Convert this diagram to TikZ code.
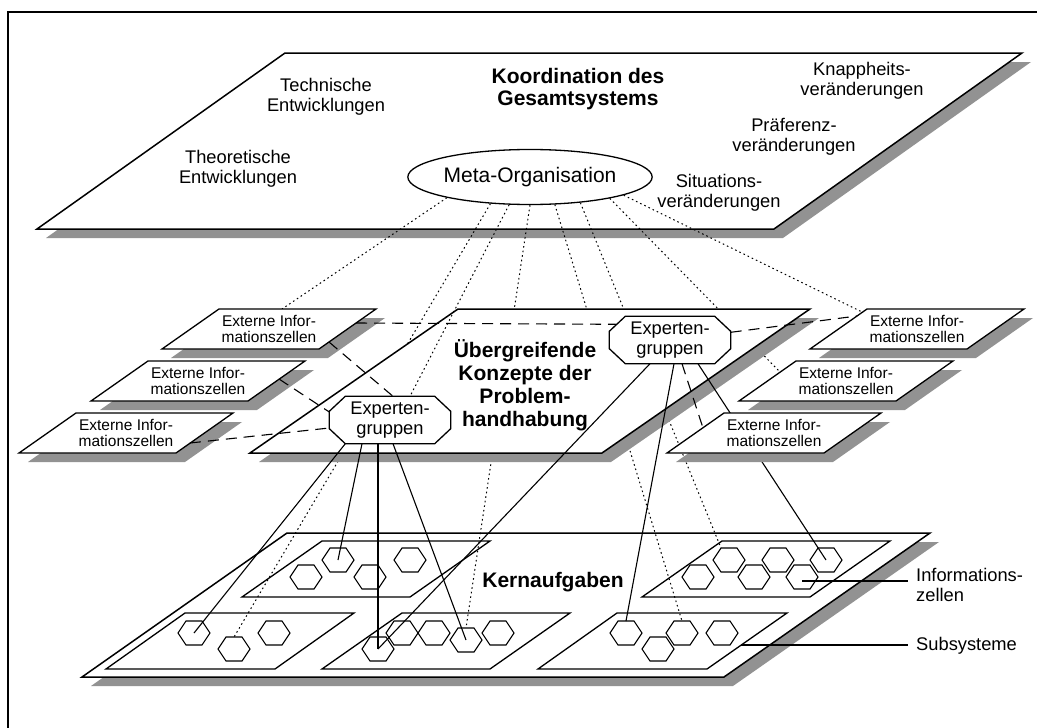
\documentclass[tikz,border=0pt]{standalone}
\usepackage{fontspec}
\setmainfont{Liberation Sans}
\usetikzlibrary{calc,shapes.geometric}
\definecolor{shade}{RGB}{146,146,146}

\tikzset{
  plane/.style={draw=black,fill=white,line width=1.5pt,line join=miter},
  subplane/.style={draw=black,line width=1.3pt,line join=miter},
  cellframe/.style={draw=black,fill=white,line width=1.3pt,line join=miter},
  drop/.style={fill=shade,draw=none},
  hexa/.style={draw=black,fill=white,line width=1.1pt},
  octo/.style={draw=black,fill=white,line width=1.3pt},
  txt/.style={font=\fontsize{18.3}{20}\selectfont,align=center,inner sep=0pt},
  btxt/.style={font=\bfseries\fontsize{21}{22.5}\selectfont,align=center,inner sep=0pt},
  stxt/.style={font=\fontsize{15.5}{16.5}\selectfont,align=center,inner sep=0pt},
  dotlink/.style={line width=1pt,dash pattern=on 1.6pt off 3pt},
  dashlink/.style={line width=1.1pt,dash pattern=on 11pt off 7pt},
  link/.style={line width=1.1pt},
  octbox/.style={minimum width=121pt,minimum height=47pt,inner sep=0pt},
  hexcell/.pic={
    \draw[hexa] (-16,0) -- (-8,-12) -- (8,-12) -- (16,0) -- (8,12) -- (-8,12) -- cycle;
    \coordinate (-c) at (0,0);
  },
  extcell/.pic={
    \fill[drop] (-98,29) -- (59,29) -- (116,-11) -- (-41,-11) -- cycle;
    \draw[cellframe] (-107,20) -- (50,20) -- (107,-20) -- (-50,-20) -- cycle;
    \node[stxt] (-t) at (0,0) {Externe Infor-\\mationszellen};
  },
}

% octagon outline around an (invisible) box node
\newcommand\drawocto[1]{%
  \draw[octo] ($(#1.north west)+(16,0)$) -- ($(#1.north east)+(-16,0)$)
    -- ($(#1.north east)+(0,15)$) -- ($(#1.south east)+(0,-15)$)
    -- ($(#1.south east)+(-16,0)$) -- ($(#1.south west)+(16,0)$)
    -- ($(#1.south west)+(0,-15)$) -- ($(#1.north west)+(0,15)$) -- cycle;}

\begin{document}
\begin{tikzpicture}[x=1pt,y=-1pt]
\useasboundingbox (0,0) rectangle (1037,728);

% frame
\draw[line width=2pt] (8,728) -- (8,12) -- (1037,12);

% positions used before the items are drawn
\coordinate (cTLc) at (269,329);
\coordinate (cMLc) at (198,381);
\coordinate (cBLc) at (126,433);
\coordinate (cTRc) at (917,329);
\coordinate (cMRc) at (846,381);
\coordinate (cBRc) at (774,433);
\node[octbox] (oL) at (390,420) {};
\node[octbox] (oR) at (670,340) {};

% ---------- top level ----------
\fill[drop] (46,238) -- (294,62) -- (1031,62) -- (783,238) -- cycle;
\draw[plane] (37,229) -- (285,53) -- (1022,53) -- (774,229) -- cycle;
\node[btxt,font=\bfseries\fontsize{21}{22}\selectfont] (koord) at (578,89) {Koordination des\\Gesamtsystems};
\node[txt] (tech) at (326,97) {Technische\\Entwicklungen};
\node[txt] (theo) at (238,169) {Theoretische\\Entwicklungen};
\node[txt] (knapp) at (862,81) {Knappheits-\\veränderungen};
\node[txt] (praef) at (794,137) {Präferenz-\\veränderungen};
\node[txt] (situ) at (719,193) {Situations-\\veränderungen};
\node[ellipse,draw=black,fill=white,line width=1.3pt,minimum width=241pt,minimum height=55pt,
      inner sep=0pt,font=\fontsize{21}{22}\selectfont] (meta) at (530,177) {Meta-Organisation};

% ---------- bottom level ----------
\fill[drop] (91,686) -- (296,542) -- (939,542) -- (733,686) -- cycle;
\draw[plane] (82,677) -- (287,533) -- (930,533) -- (724,677) -- cycle;
\draw[subplane] (242,597) -- (322,541) -- (490,541) -- (410,597) -- cycle;
\draw[subplane] (106,669) -- (185,613) -- (354,613) -- (275,669) -- cycle;
\draw[subplane] (322,669) -- (402,613) -- (570,613) -- (490,669) -- cycle;
\draw[subplane] (642,597) -- (722,541) -- (890,541) -- (810,597) -- cycle;
\draw[subplane] (538,669) -- (617,613) -- (787,613) -- (707,669) -- cycle;

\pic (hUL1) at (338,560) {hexcell};
\pic (hUL2) at (306,577) {hexcell};
\pic (hUL3) at (370,577) {hexcell};
\pic (hUL4) at (410,560) {hexcell};
\pic (hLL1) at (194,633) {hexcell};
\pic (hLL2) at (234,649) {hexcell};
\pic (hLL3) at (274,633) {hexcell};
\pic (hLM1) at (378,649) {hexcell};
\pic (hLM2) at (402,633) {hexcell};
\pic (hLM3) at (434,633) {hexcell};
\pic (hLM4) at (466,640) {hexcell};
\pic (hLM5) at (498,633) {hexcell};
\pic (hUR1) at (698,577) {hexcell};
\pic (hUR2) at (729,560) {hexcell};
\pic (hUR3) at (754,577) {hexcell};
\pic (hUR4) at (778,560) {hexcell};
\pic (hUR5) at (802,577) {hexcell};
\pic (hUR6) at (826,560) {hexcell};
\pic (hLR1) at (626,633) {hexcell};
\pic (hLR2) at (658,649) {hexcell};
\pic (hLR3) at (682,633) {hexcell};
\pic (hLR4) at (722,633) {hexcell};

\node[btxt] (kern) at (553,582) {Kernaufgaben};
\node[txt,anchor=west,align=left] (lblInfo) at (916,585) {Informations-\\zellen};
\node[txt,anchor=west] (lblSub) at (916,646) {Subsysteme};
\coordinate (infoStart) at ($(hUR5-c)+(0,4)$);
\coordinate (subStart) at (741,645);
\draw[link] (infoStart) -- ($(lblInfo.west)+(-8,-4)$);
\draw[link] (subStart) -- ($(lblSub.west)+(-8,-1)$);

% ---------- dotted links running beneath the middle level ----------
\draw[dotlink] (meta.214) -- ($(hLL2-c)+(0,-12)$);
\draw[dotlink] (meta.270) -- ($(hLM4-c)+(0,-12)$);
\draw[dotlink] (meta.312) -- ($(hLR3-c)+(0,-12)$);
\draw[dotlink] (meta.333) -- ($(hUR2-c)+(-8,-12)$);
\draw[dotlink] (meta.345) -- ($(cMRc)+(-66,-9)$);

% ---------- middle level ----------
\fill[drop] (259,462) -- (467,318) -- (819,318) -- (611,462) -- cycle;
\draw[plane] (250,453) -- (458,309) -- (810,309) -- (602,453) -- cycle;
\node[btxt,font=\bfseries\fontsize{21}{23}\selectfont] (ueber) at (525,385)
  {Übergreifende\\Konzepte der\\Problem-\\handhabung};

% dotted links drawn over the middle level
\draw[dotlink] (meta.194) -- ($(cTLc)+(13,-20)$);
\draw[dotlink] (meta.233) -- ($(oL.north)+(20,0)$);
\draw[dotlink] (meta.349) -- ($(cTRc)+(-55,-17)$);

% solid links from the expert groups
\draw[link] ($(oL.south west)+(16,0)$) -- (hLL1-c);
\draw[link] ($(oL.south)+(-28,0)$) -- (hUL1-c);
\draw[link] ($(oL.south)+(-12,0)$) -- (hLM1-c);
\draw[link] ($(oL.south)+(3,0)$) -- (hLM4-c);
\draw[link] ($(oR.south)+(-20,0)$) -- (hLM1-c);
\draw[link] ($(oR.south)+(4,0)$) -- ($(hLR1-c)+(0,-12)$);
\draw[link] ($(oR.south)+(28,0)$) -- (hUR6-c);

% external information cells
\pic (cTL) at (cTLc) {extcell};
\pic (cML) at (cMLc) {extcell};
\pic (cBL) at (cBLc) {extcell};
\pic (cTR) at (cTRc) {extcell};
\pic (cMR) at (cMRc) {extcell};
\pic (cBR) at (cBRc) {extcell};

% dashed links between cells and expert groups
\draw[dashlink] ($(cTLc)+(60,13)$) -- ($(oL.north)+(3,0)$);
\draw[dashlink] ($(cMLc)+(81,-2)$) -- ($(oL.west)+(0,-8)$);
\draw[dashlink] ($(cBLc)+(64,10)$) -- ($(oL.west)+(0,8)$);
\draw[dashlink] ($(cTLc)+(87,-6)$) -- ($(oR.north west)+(7,8)$);
\draw[dashlink] ($(oR.north east)+(0,16)$) -- ($(cTRc)+(-60,-13)$);
\draw[dashlink] ($(oR.south)+(12,0)$) -- ($(cBRc)+(-71,-5)$);

% expert groups
\drawocto{oL}
\drawocto{oR}
\node[txt] (oLtext) at (oL) {Experten-\\gruppen};
\node[txt] (oRtext) at (oR) {Experten-\\gruppen};

\end{tikzpicture}
\end{document}
